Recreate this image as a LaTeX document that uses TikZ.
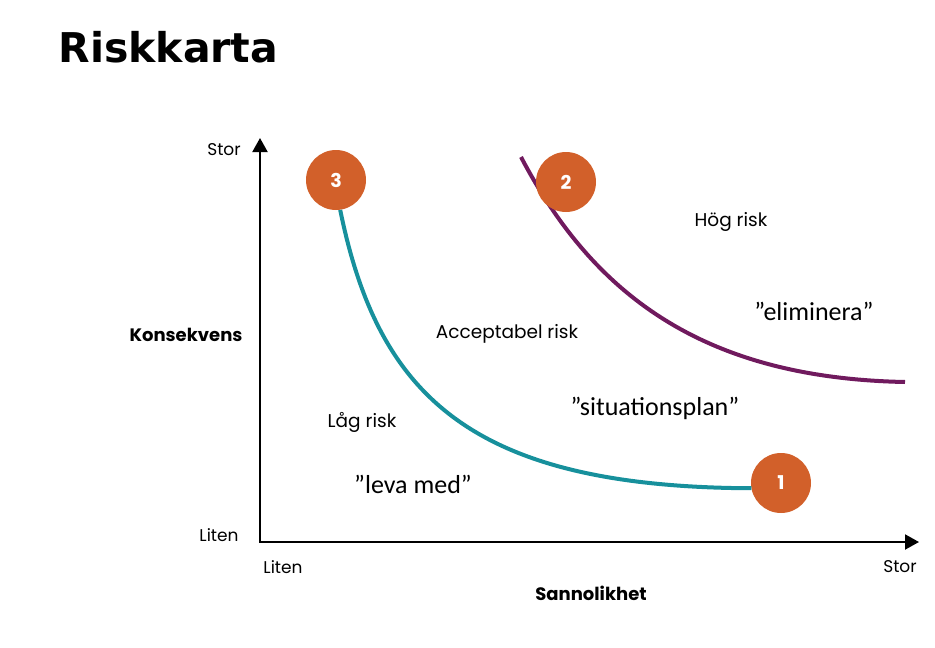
\documentclass[tikz,border=0pt]{standalone}
\usepackage{fontspec}
\setmainfont{Poppins}
\newfontfamily\quotefont{Carlito}
\newfontfamily\titlefont{DejaVu Sans}
\usetikzlibrary{arrows.meta,positioning}
\definecolor{riskorange}{HTML}{D2602A}
\definecolor{riskteal}{HTML}{17909C}
\definecolor{riskpurple}{HTML}{701A5E}

\begin{document}
\begin{tikzpicture}[x=1pt,y=-1pt,font=\fontsize{18.5}{22}\selectfont,>={Triangle[length=14pt,width=15pt]}]
  \tikzset{risk/.style={circle,fill=riskorange,minimum size=60pt,inner sep=0pt,text=white,font=\fontsize{19}{22}\selectfont\bfseries},
    curve/.style={line width=4pt},
    axis/.style={line width=2pt},
    quote/.style={font=\quotefont\fontsize{26}{30}\selectfont},
    endlabel/.style={font=\fontsize{17}{20}\selectfont},
    axislabel/.style={font=\fontsize{18}{21}\selectfont\bfseries}}
  \useasboundingbox (0,0) rectangle (935,648);
  \node[anchor=west,font=\titlefont\fontsize{41}{45}\selectfont\bfseries] (title) at (55,47) {Riskkarta};
  \coordinate (origin) at (260,542);
  \coordinate (ytop) at (260,138);
  \coordinate (xend) at (919,542);
  \draw[axis,<->] (ytop) -- (origin) -- (xend);
  \node[endlabel] (ymax) at (224,150) {Stor};
  \node[endlabel] (ymin) at (219,535) {Liten};
  \node[endlabel] (xmin) at (283,567) {Liten};
  \node[endlabel] (xmax) at (900,567) {Stor};
  \node[axislabel] (ylabel) at (186,335) {Konsekvens};
  \node[axislabel] (xlabel) at (591,593) {Sannolikhet};
  \coordinate (highstart) at (521,157);
  \coordinate (highend) at (905,382);
  \draw[curve,riskpurple] (highstart) .. controls (592,292) and (700,378) .. (highend);
  \node[risk] (three) at (336,180) {3};
  \node[risk] (two) at (566,182) {2};
  \node[risk] (one) at (781,483) {1};
  \draw[curve,riskteal] (three.-82) .. controls (378,395) and (470,487) .. (one.-170);
  \node (high) at (731,222) {Hög risk};
  \node (acceptable) at (507,334) {Acceptabel risk};
  \node (low) at (362,422) {Låg risk};
  \node[quote] (eliminate) at (814,311) {”eliminera”};
  \node[quote] (plan) at (655,408) {”situationsplan”};
  \node[quote] (livewith) at (413,484) {”leva med”};
\end{tikzpicture}
\end{document}
